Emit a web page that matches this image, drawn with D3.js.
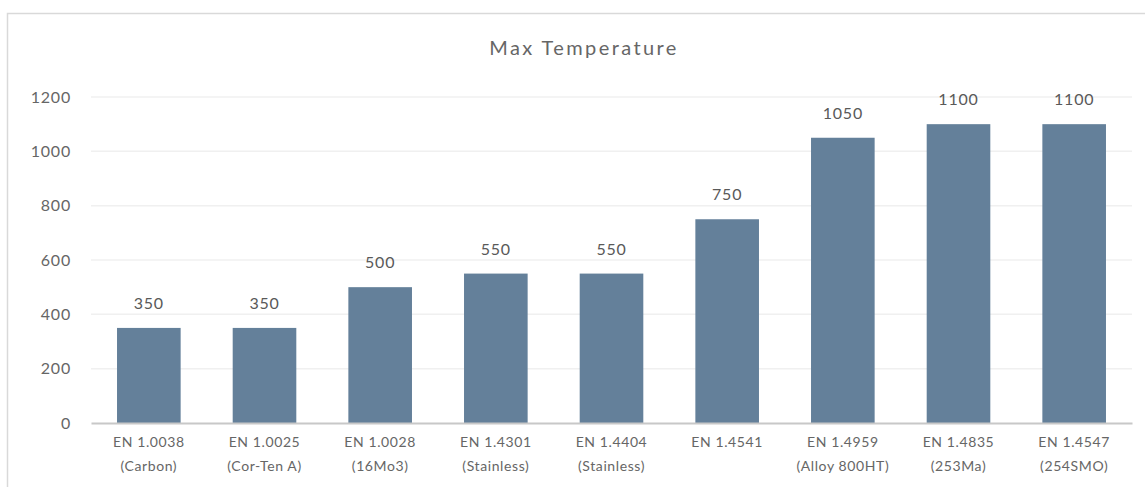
<!DOCTYPE html>
<html>
<head>
<meta charset="utf-8">
<script src="https://cdn.jsdelivr.net/npm/d3@7"></script>
<style>
  body { margin: 0; background: #fff; font-family: Lato, "Open Sans", sans-serif; }
  svg text { font-family: Lato, "Open Sans", sans-serif; }
</style>
</head>
<body>
<div id="chart"></div>
<script>
var grades = ["EN 1.0038", "EN 1.0025", "EN 1.0028", "EN 1.4301", "EN 1.4404", "EN 1.4541", "EN 1.4959", "EN 1.4835", "EN 1.4547"];
var subNames = ["(Carbon)", "(Cor-Ten A)", "(16Mo3)", "(Stainless)", "(Stainless)", "", "(Alloy 800HT)", "(253Ma)", "(254SMO)"];
var maxTemps = [350, 350, 500, 550, 550, 750, 1050, 1100, 1100];
var yTicks = [0, 200, 400, 600, 800, 1000, 1200];

var widthx = 1145, heighty = 487;
var margin = {top: 97, right: 13, bottom: 64, left: 91},
    width = widthx - margin.left - margin.right,
    height = heighty - margin.top - margin.bottom;

var svg = d3.select("#chart").append("svg")
    .attr("width", widthx)
    .attr("height", heighty);

// 外框
svg.append("rect")
    .attr("x", 7.5).attr("y", 13.5)
    .attr("width", widthx + 20).attr("height", heighty + 20)
    .attr("fill", "none").attr("stroke", "#d9d9d9").attr("stroke-width", 1.5);

svg.append("text")
    .attr("x", 584).attr("y", 55)
    .attr("text-anchor", "middle")
    .style("font-size", "20px")
    .style("letter-spacing", "2.4px")
    .attr("fill", "#666")
    .text("Max Temperature");

var g = svg.append("g").attr("transform", "translate(" + margin.left + "," + margin.top + ")");

var x = d3.scaleBand().domain(grades).range([0, width]).paddingInner(0.45).paddingOuter(0.225);
var y = d3.scaleLinear().domain([0, 1200]).range([height, 0]);

// 网格线
g.selectAll(".grid").data(yTicks.slice(1)).enter().append("line")
    .attr("x1", 0).attr("x2", width)
    .attr("y1", function(d) { return y(d); }).attr("y2", function(d) { return y(d); })
    .attr("stroke", "#f0f0f0").attr("stroke-width", 1.5);

var yAxis = g.append("g")
    .call(d3.axisLeft(y).tickValues(yTicks).tickFormat(d3.format("d")).tickSize(0).tickPadding(20));
yAxis.select(".domain").remove();
yAxis.attr("font-family", null);
yAxis.selectAll("text").style("font-size", "16px").style("letter-spacing", "0.8px").attr("fill", "#666");

g.selectAll(".bar").data(grades).enter().append("rect")
    .attr("x", function(d) { return x(d); })
    .attr("y", function(d, i) { return y(maxTemps[i]); })
    .attr("width", x.bandwidth())
    .attr("height", function(d, i) { return height - y(maxTemps[i]); })
    .attr("fill", "#64809a");

g.selectAll(".val").data(grades).enter().append("text")
    .attr("x", function(d) { return x(d) + x.bandwidth() / 2; })
    .attr("y", function(d, i) { return y(maxTemps[i]) - 19; })
    .attr("text-anchor", "middle")
    .style("font-size", "16px")
    .style("letter-spacing", "0.8px")
    .attr("fill", "#595959")
    .text(function(d, i) { return maxTemps[i]; });

var xAxis = g.append("g")
    .attr("transform", "translate(0," + height + ")")
    .call(d3.axisBottom(x).tickSize(0).tickFormat(""));
xAxis.attr("font-family", null);
xAxis.select(".domain").attr("stroke", "#c8c8c8").attr("stroke-width", 2);

xAxis.selectAll(".tick text").remove();
xAxis.selectAll(".tick").each(function(d, i) {
    var t = d3.select(this).append("text")
        .attr("text-anchor", "middle")
        .style("font-size", "14px")
        .style("letter-spacing", "0.6px")
        .attr("fill", "#666");
    t.append("tspan").attr("x", 0).attr("y", 24).text(d);
    t.append("tspan").attr("x", 0).attr("y", 48).text(subNames[i]);
});
</script>
</body>
</html>
